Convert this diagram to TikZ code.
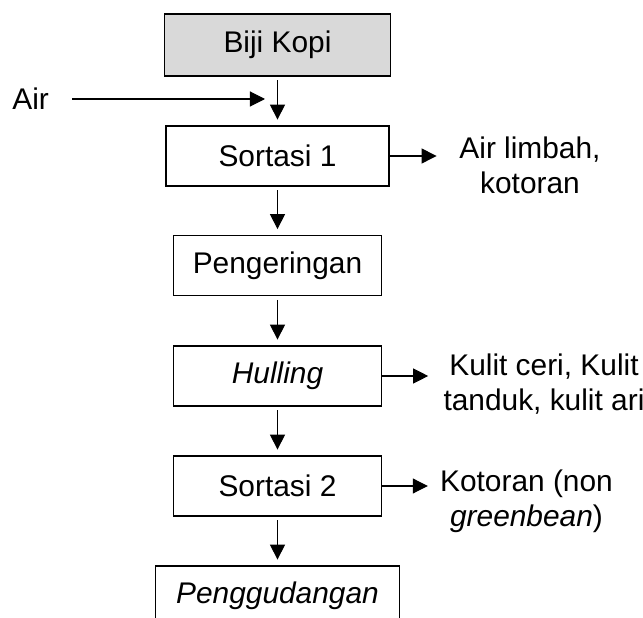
\documentclass[tikz,border=0pt]{standalone}
\usepackage{fontspec}
\setmainfont{Liberation Sans}
\usetikzlibrary{arrows.meta}
\tikzstyle{startbox} = [rectangle, draw, line width=1pt, minimum height=1.24cm, text centered, fill=gray!30]
\tikzstyle{process} = [rectangle, draw, line width=1pt, minimum height=1.2cm, text centered]
\tikzstyle{waste} = [align=center, inner sep=0pt]
\tikzstyle{arrow} = [line width=0.6pt, -{Triangle[length=0.3cm, width=0.3cm]}]
\tikzstyle{down} = [arrow, shorten <=0.07cm, shorten >=0.11cm]

\begin{document}
\begin{tikzpicture}[font=\fontsize{17}{19.9}\selectfont]
            \useasboundingbox (0,0) rectangle (12.86,-12.36);
            \clip (0,0) rectangle (12.86,-12.36);
            \node [startbox, minimum width=4.52cm] at (5.55,-0.90) (bijikopi) {Biji Kopi};
            \node [process, minimum width=4.46cm] at (5.55,-3.12) (sortasi1) {Sortasi 1};
            \node [process, minimum width=4.16cm] at (5.55,-5.31) (pengeringan) {Pengeringan};
            \node [process, minimum width=4.16cm] at (5.55,-7.52) (hulling) {\textit{Hulling}};
            \node [process, minimum width=4.16cm] at (5.55,-9.72) (sortasi2) {Sortasi 2};
            \node [process, minimum width=4.88cm] at (5.55,-11.92) (penggudangan) {\textit{Penggudangan}};

            \node [inner sep=0pt, anchor=west] at (0.24,-1.98) (air) {Air};
            \coordinate (airin) at (5.30,-1.98);
            \node [waste] at (10.6,-3.30) (limbah) {Air limbah,\\kotoran};
            \node [waste] at (10.88,-7.68) (kulit) {Kulit ceri, Kulit\\tanduk, kulit ari};
            \node [waste] at (10.53,-10.03) (kotoran) {Kotoran (non\\\textit{greenbean})};

            \draw [arrow, shorten <=0.46cm] (air) -- (airin);
            \draw [down] (bijikopi) -- (sortasi1);
            \draw [down] (sortasi1) -- (pengeringan);
            \draw [down] (pengeringan) -- (hulling);
            \draw [down] (hulling) -- (sortasi2);
            \draw [down] (sortasi2) -- (penggudangan);
            \draw [arrow, shorten >=0.45cm] (sortasi1.east) -- (sortasi1.east -| limbah.west);
            \draw [arrow, shorten >=0.3cm] (hulling.east) -- (hulling.east -| kulit.west);
            \draw [arrow, shorten >=0.24cm] (sortasi2.east) -- (sortasi2.east -| kotoran.west);
\end{tikzpicture}
\end{document}
